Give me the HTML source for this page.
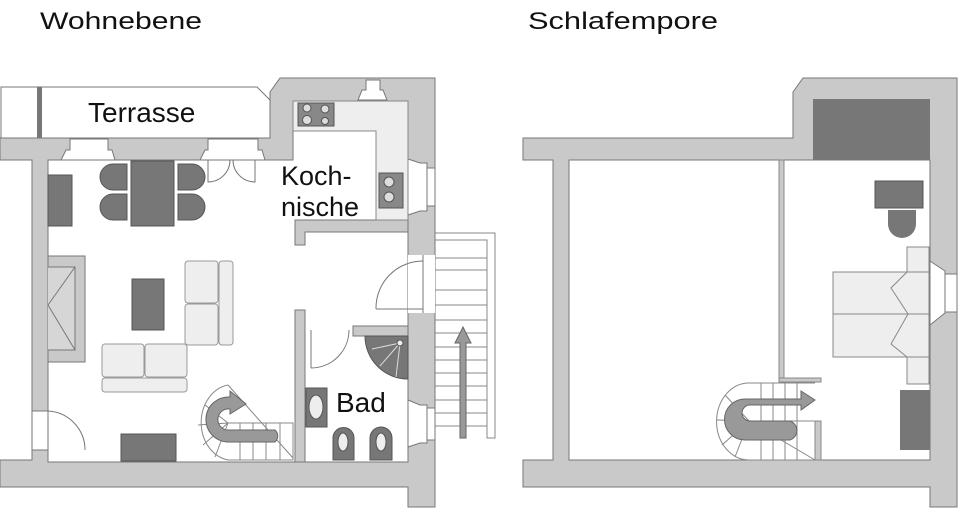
<!DOCTYPE html>
<html><head><meta charset="utf-8"><style>
html,body{margin:0;padding:0;background:#fff;width:960px;height:509px;overflow:hidden}
svg{display:block}
text{font-family:"Liberation Sans",sans-serif;fill:#111}
</style></head><body>
<svg width="960" height="509" viewBox="0 0 960 509" xmlns="http://www.w3.org/2000/svg">
<text x="40" y="29" font-size="24" textLength="162" lengthAdjust="spacingAndGlyphs">Wohnebene</text>
<text x="528" y="29" font-size="24" textLength="190" lengthAdjust="spacingAndGlyphs">Schlafempore</text>

<g stroke="#777" stroke-width="1" fill="#c9c9c9">
<path d="M1,87 H257 L270,100 V138 H1 Z" fill="#fff"/>
<path d="M0,138 H270 V92 L280,78 H435 V507 H408 V487 H0 V460 H32 V160 H0 Z"/>
<path d="M48,160 H293 V101 H408 V462 H48 Z" fill="#fff"/>
<path d="M295,220 H408 V232 H305 V245 H295 Z"/>
<rect x="295" y="310" width="10" height="152"/>
<rect x="353" y="326" width="55" height="10"/>
</g>
<rect x="37" y="87" width="5" height="51" fill="#777"/>
<g fill="#fff" stroke="#777">
<path d="M61,160 L66,150 H70 V139 H108 V150 H112 L115,160 Z"/>
<path d="M200,160 L205,150 H208 V139 H258 V150 H262 L265,160 Z"/>
<path d="M358,100 L362,90 H366 V80 H380 V90 H383 L387,100 Z"/>
<path d="M408,159 L420,163 H427 V211 H420 L408,215 Z"/>
<rect x="427" y="168" width="8" height="38"/>
<path d="M408,400 L420,405 H427 V443 H420 L408,447 Z"/>
<rect x="427" y="408" width="8" height="32"/>
<rect x="408" y="255" width="27" height="58" stroke="none"/>
<line x1="423" y1="255" x2="423" y2="313"/>
<rect x="32" y="411" width="16" height="39"/>
</g>
<g fill="none" stroke="#777">
<path d="M208,160 V182 A22,22 0 0 0 230,160"/>
<path d="M255,160 V182 A22,22 0 0 1 233,160"/>
<path d="M376,309 H423 V261 A47,47 0 0 0 376,309"/>
<path d="M48,411 A39,39 0 0 1 85,450"/>
<path d="M311,330 V368 M349,330 A38,38 0 0 1 311,368"/>
</g>
<path d="M293,101 H408 V220 H376 V131 H293 Z" fill="#eee" stroke="#888"/>
<rect x="298" y="103" width="36" height="23" fill="#888" stroke="#555"/>
<g fill="#ddd" stroke="#555"><circle cx="307" cy="108" r="4"/><circle cx="325" cy="109" r="4"/><circle cx="307" cy="120" r="4.5"/><circle cx="325" cy="121" r="3.5"/></g>
<rect x="379" y="173" width="24" height="35" fill="#888" stroke="#555"/>
<g fill="#ddd" stroke="#555"><circle cx="389" cy="182" r="5"/><circle cx="389" cy="197" r="5"/></g>
<g stroke="#888" fill="none">
<path d="M435,233 H495 V438 H487 V240 H435"/>
<path d="M435,258 H487 M435,270 H487 M435,290 H487 M435,305 H487 M435,320 H487 M435,333 H487 M435,347 H487 M435,360 H487 M435,373 H487 M435,386 H487 M435,400 H487 M435,413 H487 M435,426 H487"/>
</g>
<path d="M460,438 V343 H455 L463,327 L471,343 H466 V438 Z" fill="#999" stroke="#666"/>
<g fill="#777" stroke="#555">
<rect x="48" y="175" width="24" height="51"/>
<rect x="131" y="161" width="43" height="65"/>
<path d="M127,164 H113 A13,13 0 0 0 113,190 H127 Z"/>
<path d="M127,194 H113 A13,13 0 0 0 113,220 H127 Z"/>
<path d="M178,164 H192 A13,13 0 0 1 192,190 H178 Z"/>
<path d="M178,194 H192 A13,13 0 0 1 192,220 H178 Z"/>
<rect x="132" y="279" width="32" height="51"/>
<rect x="121" y="434" width="55" height="27"/>
</g>
<rect x="48" y="256" width="37" height="106" fill="#c9c9c9" stroke="#777"/>
<path d="M48,267 H75 V350 H48 M48,305 L75,267 M48,305 L75,350" fill="#d6d6d6" stroke="#777"/>
<g fill="#eee" stroke="#999">
<rect x="185" y="261" width="33" height="42" rx="3"/>
<rect x="185" y="304" width="33" height="41" rx="3"/>
<rect x="219" y="261" width="14" height="84" rx="3"/>
<rect x="102" y="344" width="42" height="33" rx="3"/>
<rect x="145" y="344" width="42" height="33" rx="3"/>
<rect x="102" y="378" width="85" height="14" rx="3"/>
</g>
<g stroke="#888" fill="none">
<path d="M228,385 A32,38 0 0 0 228,460 H293 V423 H228"/>
<path d="M228,385 L293,458 M205,405 L228,423 M198,425 L228,423 M203,445 L228,423 M215,457 L228,423 M240,423 V460 M253,423 V460 M266,423 V460 M280,423 V460"/>
</g>
<path d="M230,397 A18,18 0 0 0 227,442 H275 A8,8 0 0 0 275,430 H227 A8,8 0 0 1 230,409 V414 L246,404 L230,391 Z" fill="#999" stroke="#666"/>
<path d="M408,336 H365 A43,43 0 0 0 408,379 Z" fill="#777" stroke="#555"/>
<g stroke="#ddd"><line x1="400" y1="343" x2="372" y2="349"/><line x1="400" y1="343" x2="380" y2="366"/><line x1="400" y1="343" x2="396" y2="377"/></g>
<circle cx="400" cy="343" r="3" fill="#eee" stroke="#555"/>
<rect x="306" y="388" width="21" height="39" fill="#777" stroke="#555"/>
<ellipse cx="316" cy="407" rx="7" ry="12" fill="#eee" stroke="#555"/>
<path d="M333,460 V438 A10,10 0 0 1 354,438 V460 Z" fill="#777" stroke="#555"/>
<path d="M370,460 V438 A10,10 0 0 1 392,438 V460 Z" fill="#777" stroke="#555"/>
<ellipse cx="343" cy="442" rx="5" ry="9" fill="#eee" stroke="#555"/>
<ellipse cx="381" cy="442" rx="5" ry="9" fill="#eee" stroke="#555"/>
<text x="88" y="122" font-size="28">Terrasse</text>
<text x="281" y="185" font-size="27">Koch-</text>
<text x="281" y="216" font-size="27">nische</text>
<text x="336" y="412" font-size="28">Bad</text>

<path d="M523,138 H793 V92 L803,78 H957 V507 H930 V487 H523 V460 H553 V160 H523 Z" fill="#c9c9c9" stroke="#777"/>
<rect x="569" y="160" width="361" height="300" fill="#fff" stroke="#777"/>
<rect x="813" y="99" width="117" height="61" fill="#777"/>
<rect x="779" y="160" width="5" height="218" fill="#c9c9c9" stroke="#888"/>
<rect x="779" y="378" width="42" height="4" fill="#c9c9c9" stroke="#888"/>
<rect x="875" y="181" width="48" height="27" fill="#777" stroke="#555"/>
<path d="M888,210 H916 V224 A14,14 0 0 1 888,224 Z" fill="#777"/>
<g fill="#eee" stroke="#888">
<rect x="907" y="247" width="22" height="137"/>
<rect x="833" y="272" width="96" height="42"/>
<rect x="833" y="314" width="96" height="43"/>
</g>
<path d="M907,272 L891,288 L908,314 L891,344 L907,357 M907,272 H929 M907,357 H929" fill="none" stroke="#888"/>
<path d="M930,261 L945,271 V313 L930,325 Z" fill="#fff" stroke="#777"/>
<rect x="945" y="274" width="12" height="38" fill="#fff" stroke="#777"/>
<rect x="900" y="390" width="30" height="60" fill="#777"/>
<g stroke="#888" fill="none">
<path d="M749,383 A32,38 0 0 0 749,460 H815 V421 H749 M749,383 H815"/>
<path d="M749,421 L815,460 M725,395 L749,421 M717,420 L749,421 M722,445 L749,421 M735,457 L749,421 M761,383 V460 M773,383 V460 M785,383 V460 M797,383 V460"/>
</g>
<rect x="815" y="421" width="6" height="39" fill="#c9c9c9" stroke="#888"/>
<path d="M801,399 H745 A17,17 0 0 0 745,440 H790 A10,10 0 0 0 790,421 H750 A4,4 0 0 1 750,405 H801 V410 L815,400 L801,391 Z" fill="#999" stroke="#666"/>
</svg>
</body></html>
